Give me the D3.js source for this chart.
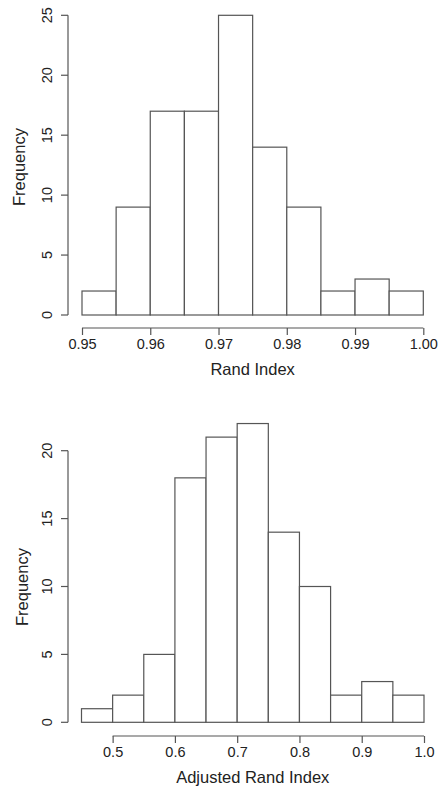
<!DOCTYPE html>
<html>
<head>
<meta charset="utf-8">
<script src="https://cdn.jsdelivr.net/npm/d3@7"></script>
<style>
  body { margin: 0; background: #fff; }
  text { font-family: "Liberation Sans", Arial, sans-serif; fill: #222; }
</style>
</head>
<body>
<div id="chart"></div>
<script>
// data
var randBreaks = [0.95, 0.955, 0.96, 0.965, 0.97, 0.975, 0.98, 0.985, 0.99, 0.995, 1.00];
var randCounts = [2, 9, 17, 17, 25, 14, 9, 2, 3, 2];
var randXTicks = [0.95, 0.96, 0.97, 0.98, 0.99, 1.00];
var randYTicks = [0, 5, 10, 15, 20, 25];

var adjBreaks = [0.45, 0.5, 0.55, 0.6, 0.65, 0.7, 0.75, 0.8, 0.85, 0.9, 0.95, 1.0];
var adjCounts = [1, 2, 5, 18, 21, 22, 14, 10, 2, 3, 2];
var adjXTicks = [0.5, 0.6, 0.7, 0.8, 0.9, 1.0];
var adjYTicks = [0, 5, 10, 15, 20];

var svg = d3.select("#chart").append("svg")
    .attr("width", 440)
    .attr("height", 794);

function hist(opts) {
    var x = d3.scaleLinear().domain(opts.xDomain).range(opts.xRange);
    var y = d3.scaleLinear().domain(opts.yDomain).range(opts.yRange);
    var g = svg.append("g");

    var bins = opts.counts.map(function (c, i) {
        return { x0: opts.breaks[i], x1: opts.breaks[i + 1], n: c };
    });

    g.selectAll("rect.bar")
        .data(bins).enter()
        .append("rect")
        .attr("class", "bar")
        .attr("x", function (d) { return x(d.x0); })
        .attr("width", function (d) { return x(d.x1) - x(d.x0); })
        .attr("y", function (d) { return y(d.n); })
        .attr("height", function (d) { return y(0) - y(d.n); })
        .attr("fill", "#fff")
        .attr("stroke", "#555")
        .attr("stroke-width", 1.2);

    // x axis, R style: offset below the bars
    var xAxis = d3.axisBottom(x)
        .tickValues(opts.xTicks)
        .tickSize(7)
        .tickPadding(4)
        .tickFormat(opts.xFormat);
    var gx = g.append("g")
        .attr("transform", "translate(0," + opts.xAxisY + ")")
        .call(xAxis);
    gx.select(".domain").remove();
    gx.append("line")
        .attr("x1", x(opts.xTicks[0]))
        .attr("x2", x(opts.xTicks[opts.xTicks.length - 1]))
        .attr("stroke", "#555").attr("stroke-width", 1.2);
    gx.selectAll(".tick line").attr("stroke", "#555").attr("stroke-width", 1.2);
    gx.selectAll(".tick text")
        .style("font-size", "14.5px")
        .attr("fill", "#222");

    // y axis
    var yAxis = d3.axisLeft(y)
        .tickValues(opts.yTicks)
        .tickSize(7)
        .tickFormat(d3.format("d"));
    var gy = g.append("g")
        .attr("transform", "translate(" + opts.yAxisX + ",0)")
        .call(yAxis);
    gy.select(".domain").remove();
    gy.append("line")
        .attr("y1", y(opts.yTicks[0]))
        .attr("y2", y(opts.yTicks[opts.yTicks.length - 1]))
        .attr("stroke", "#555").attr("stroke-width", 1.2);
    gy.selectAll(".tick line").attr("stroke", "#555").attr("stroke-width", 1.2);
    gy.selectAll(".tick text")
        .style("font-size", "14.5px")
        .attr("fill", "#222")
        .attr("text-anchor", "middle")
        .attr("dy", "0")
        .attr("transform", function (d) { return "translate(-20," + y(d) + ") rotate(-90)"; })
        .attr("x", 0)
        .attr("y", 0);
    gy.selectAll(".tick").attr("transform", "translate(0,0)");
    gy.selectAll(".tick line")
        .attr("y1", function (d) { return y(d); })
        .attr("y2", function (d) { return y(d); });
    gy.selectAll(".tick text").attr("dominant-baseline", "middle");

    g.append("text")
        .attr("x", (opts.xRange[0] + opts.xRange[1]) / 2)
        .attr("y", opts.titleY)
        .attr("text-anchor", "middle")
        .style("font-size", "16.5px")
        .text(opts.xLabel);

    g.append("text")
        .attr("transform", "translate(" + opts.yLabelX + "," + opts.yLabelY + ") rotate(-90)")
        .attr("text-anchor", "middle")
        .attr("dominant-baseline", "middle")
        .style("font-size", "16.5px")
        .text("Frequency");
}

hist({
    breaks: randBreaks, counts: randCounts,
    xTicks: randXTicks, yTicks: randYTicks,
    xDomain: [0.95, 1.0], xRange: [82, 423.3],
    yDomain: [0, 25], yRange: [315, 15.3],
    xAxisY: 328, yAxisX: 68,
    xFormat: d3.format(".2f"),
    titleY: 375, xLabel: "Rand Index",
    yLabelX: 21, yLabelY: 167
});

hist({
    breaks: adjBreaks, counts: adjCounts,
    xTicks: adjXTicks, yTicks: adjYTicks,
    xDomain: [0.45, 1.0], xRange: [81.5, 424],
    yDomain: [0, 20], yRange: [722.3, 450.7],
    xAxisY: 736, yAxisX: 68,
    xFormat: d3.format(".1f"),
    titleY: 783, xLabel: "Adjusted Rand Index",
    yLabelX: 24, yLabelY: 587
});
</script>
</body>
</html>
